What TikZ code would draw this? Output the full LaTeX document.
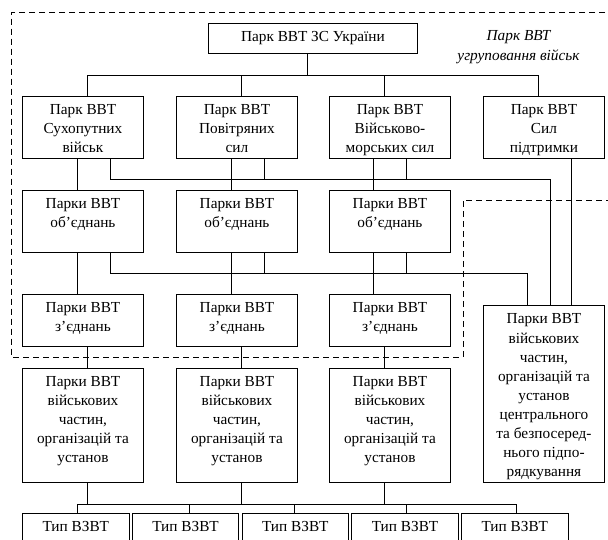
\documentclass[tikz,border=0pt]{standalone}
\usepackage{fontspec}
\setmainfont{Liberation Serif}
\tikzset{
  box/.style={draw, line width=0.9pt, inner sep=0pt, anchor=north west},
  conn/.style={draw, line width=0.8pt},
  grp/.style={draw, dash pattern=on 6pt off 4pt, line width=0.8pt},
  lbl/.style={font=\fontsize{15.3pt}{20pt}\selectfont\itshape, align=center, inner sep=0pt},
}
\newcommand{\boxtxt}[3]{\parbox[c][#2][t]{#1}{\centering\rule{0pt}{18.5pt}#3\par}}
\begin{document}
\begin{tikzpicture}[x=1pt, y=-1pt, font=\fontsize{15.3pt}{19pt}\selectfont]
\clip (0,0) rectangle (608,540);
% dashed group
\draw[grp] (615,12) -- (11.7,12) -- (11.7,357) -- (463,357) -- (463,200) -- (615,200);
\node[lbl] (grplabel) at (518.5,47) {Парк ВВТ\\угруповання військ};
% boxes
\node[box] (top) at (208,23) {\boxtxt{209pt}{30pt}{Парк ВВТ ЗС України}};
\node[box] (b1) at (22,96) {\boxtxt{121pt}{62pt}{Парк ВВТ\\Сухопутних\\військ}};
\node[box] (b2) at (176,96) {\boxtxt{121pt}{62pt}{Парк ВВТ\\Повітряних\\сил}};
\node[box] (b3) at (329,96) {\boxtxt{121pt}{62pt}{Парк ВВТ\\Військово-\\морських сил}};
\node[box] (b4) at (483,96) {\boxtxt{121pt}{62pt}{Парк ВВТ\\Сил\\підтримки}};
\node[box] (c1) at (22,190) {\boxtxt{121pt}{62pt}{Парки ВВТ\\об’єднань}};
\node[box] (c2) at (176,190) {\boxtxt{121pt}{62pt}{Парки ВВТ\\об’єднань}};
\node[box] (c3) at (329,190) {\boxtxt{121pt}{62pt}{Парки ВВТ\\об’єднань}};
\node[box] (d1) at (22,294) {\boxtxt{121pt}{52pt}{Парки ВВТ\\з’єднань}};
\node[box] (d2) at (176,294) {\boxtxt{121pt}{52pt}{Парки ВВТ\\з’єднань}};
\node[box] (d3) at (329,294) {\boxtxt{121pt}{52pt}{Парки ВВТ\\з’єднань}};
\node[box] (e1) at (22,368) {\boxtxt{121pt}{114pt}{Парки ВВТ\\військових\\частин,\\організацій та\\установ}};
\node[box] (e2) at (176,368) {\boxtxt{121pt}{114pt}{Парки ВВТ\\військових\\частин,\\організацій та\\установ}};
\node[box] (e3) at (329,368) {\boxtxt{121pt}{114pt}{Парки ВВТ\\військових\\частин,\\організацій та\\установ}};
\node[box, font=\fontsize{15.3pt}{19.1pt}\selectfont] (r) at (483,305) {\boxtxt{121pt}{177pt}{Парки ВВТ\\військових\\частин,\\організацій та\\установ\\центрального\\та безпосеред-\\нього підпо-\\рядкування}};
\node[box] (t1) at (22,513) {\boxtxt{106.5pt}{34pt}{Тип ВЗВТ}};
\node[box] (t2) at (131.75,513) {\boxtxt{106.5pt}{34pt}{Тип ВЗВТ}};
\node[box] (t3) at (241.5,513) {\boxtxt{106.5pt}{34pt}{Тип ВЗВТ}};
\node[box] (t4) at (351.25,513) {\boxtxt{106.5pt}{34pt}{Тип ВЗВТ}};
\node[box] (t5) at (461,513) {\boxtxt{106.5pt}{34pt}{Тип ВЗВТ}};
% top bus
\coordinate (ta) at ([xshift=-5.5pt]top.south);
\coordinate (bus) at ([yshift=-22pt]ta);
\coordinate (b1n) at ([xshift=4.5pt]b1.north);
\coordinate (b2n) at ([xshift=4.5pt]b2.north);
\coordinate (b3n) at ([xshift=-5.5pt]b3.north);
\coordinate (b4n) at ([xshift=-5.5pt]b4.north);
\draw[conn] (ta) -- (bus);
\draw[conn] (b1n) |- (bus) -| (b4n);
\draw[conn] (b2n) -- (b2n |- bus);
\draw[conn] (b3n) -- (b3n |- bus);
% level 1 -> level 2
\draw[conn] ([xshift=-5.5pt]b1.south) -- ([xshift=-5.5pt]c1.north);
\draw[conn] ([xshift=-6pt]b2.south) -- ([xshift=-6pt]c2.north);
\draw[conn] ([xshift=-16.5pt]b3.south) -- ([xshift=-16.5pt]c3.north);
\coordinate (b1s) at ([xshift=27.5pt]b1.south);
\coordinate (b2s) at ([xshift=27pt]b2.south);
\coordinate (b3s) at ([xshift=16.5pt]b3.south);
\coordinate (h1) at ([yshift=-21pt]b1s);
\coordinate (rn1) at ([xshift=6.5pt]r.north);
\coordinate (rn2) at ([xshift=-16.5pt]r.north);
\coordinate (rn3) at ([xshift=27.5pt]r.north);
\draw[conn] (b1s) -- (h1) -| (rn1);
\draw[conn] (b2s) -- (b2s |- h1);
\draw[conn] (b3s) -- (b3s |- h1);
\draw[conn] ([xshift=27.5pt]b4.south) -- (rn3);
% level 2 -> level 3
\draw[conn] ([xshift=-5.5pt]c1.south) -- ([xshift=-5.5pt]d1.north);
\draw[conn] ([xshift=-6pt]c2.south) -- ([xshift=-6pt]d2.north);
\draw[conn] ([xshift=-16.5pt]c3.south) -- ([xshift=-16.5pt]d3.north);
\coordinate (c1s) at ([xshift=27.5pt]c1.south);
\coordinate (c2s) at ([xshift=27pt]c2.south);
\coordinate (c3s) at ([xshift=16.5pt]c3.south);
\coordinate (h2) at ([yshift=-21pt]c1s);
\draw[conn] (c1s) -- (h2) -| (rn2);
\draw[conn] (c2s) -- (c2s |- h2);
\draw[conn] (c3s) -- (c3s |- h2);
% level 3 -> level 4
\draw[conn] ([xshift=4.5pt]d1.south) -- ([xshift=4.5pt]e1.north);
\draw[conn] ([xshift=4.5pt]d2.south) -- ([xshift=4.5pt]e2.north);
\draw[conn] ([xshift=-5.5pt]d3.south) -- ([xshift=-5.5pt]e3.north);
% level 4 -> types
\coordinate (e1s) at ([xshift=4.5pt]e1.south);
\coordinate (e2s) at ([xshift=4.5pt]e2.south);
\coordinate (e3s) at ([xshift=-5.5pt]e3.south);
\coordinate (tb) at ([yshift=-21pt]e1s);
\coordinate (t1n) at ([xshift=2pt]t1.north);
\coordinate (t2n) at ([xshift=4pt]t2.north);
\coordinate (t3n) at ([xshift=-1pt]t3.north);
\coordinate (t4n) at ([xshift=1.5pt]t4.north);
\coordinate (t5n) at ([xshift=2pt]t5.north);
\draw[conn] (e1s) -- (tb);
\draw[conn] (e2s) -- (e2s |- tb);
\draw[conn] (e3s) -- (e3s |- tb);
\draw[conn] (t1n) |- (tb) -| (t5n);
\draw[conn] (t2n) -- (t2n |- tb);
\draw[conn] (t3n) -- (t3n |- tb);
\draw[conn] (t4n) -- (t4n |- tb);
\end{tikzpicture}
\end{document}
